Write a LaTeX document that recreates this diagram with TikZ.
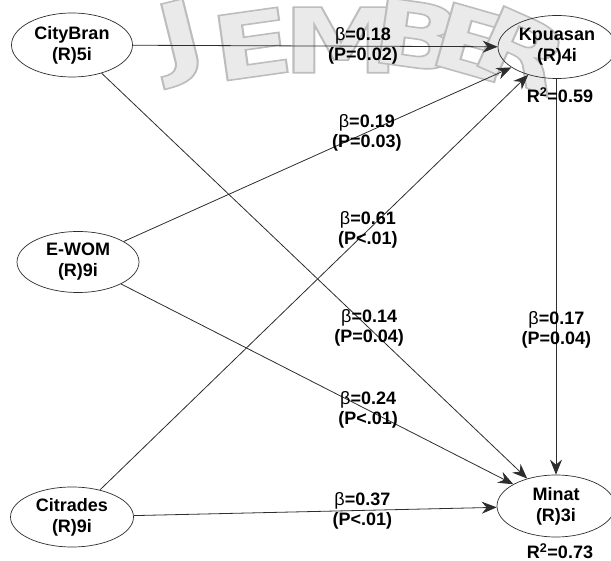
\documentclass[tikz,border=0pt]{standalone}
\usepackage{fontspec}
\setmainfont{Liberation Sans}
\newfontfamily\markfont{DejaVu Sans Bold}
\usepackage{tikz}
\usetikzlibrary{positioning, arrows.meta, calc, shapes.geometric}
\definecolor{LineGrey}{RGB}{45,45,45}
\definecolor{MarkGrey}{RGB}{234,234,234}
\tikzset{
  latent/.style={draw=LineGrey, ellipse, line width=0.7pt, inner sep=0pt, align=center,
    font=\bfseries\fontsize{18}{21}\selectfont},
  relarrow/.style={-{Stealth[length=15pt, width=12pt, inset=5pt]}, line width=0.8pt, LineGrey},
  coef/.style={font=\bfseries\fontsize{18}{20}\selectfont, align=center, inner sep=0pt},
  rsq/.style={font=\bfseries\fontsize{18}{21}\selectfont, inner sep=0pt},
  wmletter/.style={font=\markfont\fontsize{90}{90}\selectfont, text=MarkGrey, inner sep=0pt},
}
\newcommand{\bcoef}[1]{{\mdseries β}=#1}
% filled + stroked glyphs for the watermark
\newcommand{\outl}[1]{\special{pdf:literal direct 2 Tr 1.6 w 0.918 g 0.74 G}#1\special{pdf:literal direct 0 Tr}}

\begin{document}
\begin{tikzpicture}[x=1pt, y=-1pt, >=Stealth]
  \useasboundingbox (0,0) rectangle (611,561);
  % watermark behind everything
  \foreach \ch/\px/\py/\rot [count=\i] in {J/182/42/14, E/252/44/8, M/341/40/0, B/417/35/-8, E/473/42/-16, R/522/50/-24}
    \node[wmletter, rotate=\rot, xscale=1.3] (wm\i) at (\px,\py) {\outl{\ch}};
  % latent variables
  \node[latent, minimum width=121pt, minimum height=64pt] (CityBran) at (72,45) {CityBran\\(R)5i};
  \node[latent, minimum width=122pt, minimum height=61pt] (EWOM) at (78,262) {E-WOM\\(R)9i};
  \node[latent, minimum width=123pt, minimum height=60pt] (Citrades) at (72,517) {Citrades\\(R)9i};
  \node[latent, minimum width=118pt, minimum height=63pt] (Kpuasan) at (557,47) {Kpuasan\\(R)4i};
  \node[latent, minimum width=118pt, minimum height=62pt] (Minat) at (556,506) {Minat\\(R)3i};
  % structural paths
  \draw[relarrow] (CityBran) -- (Kpuasan);
  \draw[relarrow] (EWOM) -- (Kpuasan);
  \draw[relarrow] (Citrades) -- (Kpuasan);
  \draw[relarrow] (CityBran) -- (Minat);
  \draw[relarrow] (EWOM) -- (Minat);
  \draw[relarrow] (Citrades) -- (Minat);
  \draw[relarrow] (Kpuasan.south -| Minat.north) -- (Minat.north);
  % coefficients
  \node[coef] (cCK) at ($(CityBran)!0.60!(Kpuasan)$) {\bcoef{0.18}\\(P=0.02)};
  \node[coef] (cEK) at ($(EWOM)!0.603!(Kpuasan)$) {\bcoef{0.19}\\(P=0.03)};
  \node[coef] (cTK) at ($(Citrades)!0.61!(Kpuasan)$) {\bcoef{0.61}\\(P<.01)};
  \node[coef] (cCM) at ($(CityBran)!0.614!(Minat)$) {\bcoef{0.14}\\(P=0.04)};
  \node[coef] (cEM) at ($(EWOM)!0.607!(Minat)$) {\bcoef{0.24}\\(P<.01)};
  \node[coef] (cTM) at ($(Citrades)!0.60!(Minat)$) {\bcoef{0.37}\\(P<.01)};
  \node[coef] (cKM) at ($(Kpuasan)!0.617!(Minat)$) {\bcoef{0.17}\\(P=0.04)};
  % explained variance
  \node[rsq] (rK) at ([xshift=3pt, yshift=-16pt]Kpuasan.south) {R\textsuperscript{2}=0.59};
  \node[rsq] (rM) at ([xshift=4pt, yshift=-14pt]Minat.south) {R\textsuperscript{2}=0.73};
\end{tikzpicture}
\end{document}
